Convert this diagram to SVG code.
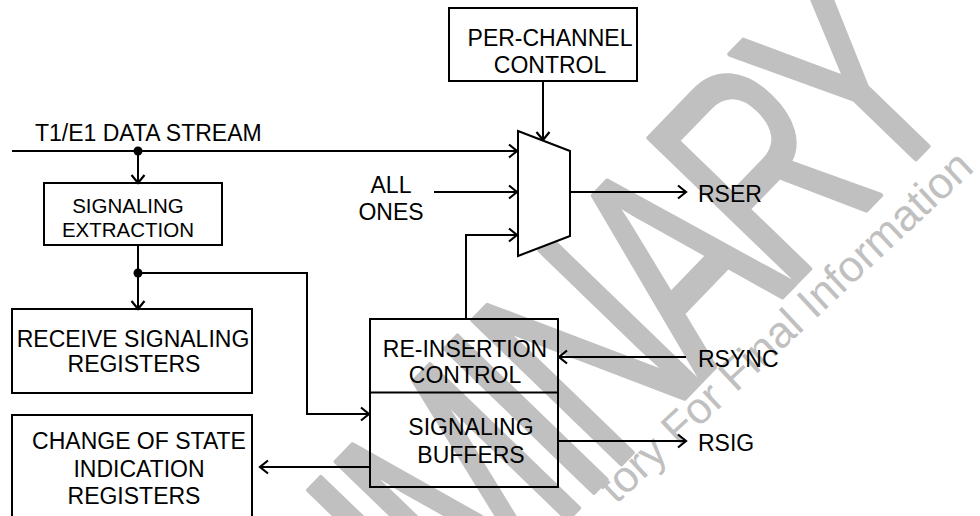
<svg xmlns="http://www.w3.org/2000/svg" width="980" height="516" viewBox="0 0 980 516">
<style>
.t{font-family:"Liberation Sans",Arial,sans-serif;font-size:23px;fill:#000}
.s{font-size:20.5px}
.m{text-anchor:middle}
.wm{font-family:"Liberation Sans",Arial,sans-serif;fill:#c0c0c0}
.b{fill:none;stroke:#000;stroke-width:2}
.c{fill:none;stroke:#000;stroke-width:2;marker-end:url(#ar)}
</style>
<defs>
<marker id="ar" markerUnits="userSpaceOnUse" markerWidth="14" markerHeight="16" refX="11" refY="8" orient="auto" overflow="visible">
<path d="M3,1.5 L11,8 L3,14.5" fill="none" stroke="#000" stroke-width="2.2"/>
</marker>
</defs>
<rect width="980" height="516" fill="#fff"/>
<g id="watermark">
<text class="wm" font-size="300" letter-spacing="-22" stroke="#c0c0c0" stroke-width="5" stroke-linejoin="round" transform="translate(115,988) rotate(-46) scale(0.68,1)">PRELIMINARY</text>
<text class="wm" font-size="44" transform="translate(616,505) rotate(-43)">tory For Final Information</text>
</g>
<g id="connectors">
<path class="c" d="M12,151 H517"/>
<path class="c" d="M138,151 V183"/>
<path class="c" d="M138,245 V309"/>
<path class="c" d="M138,273 H307 V414 H369"/>
<path class="c" d="M543,81 V140"/>
<path class="c" d="M434,192 H517"/>
<path class="c" d="M466,319 V235 H517"/>
<path class="c" d="M570,192 H686"/>
<path class="c" d="M686,357 H559"/>
<path class="c" d="M558,441 H686"/>
<path class="c" d="M370,467 H260"/>
<circle cx="138" cy="151" r="4.5" fill="#000"/>
<circle cx="138" cy="273" r="4.5" fill="#000"/>
</g>
<g id="mux">
<polygon points="518,131 570,151 570,236 518,256" fill="#fff" stroke="#000" stroke-width="2"/>
</g>
<g id="per-channel-control">
<rect class="b" x="449" y="8" width="188" height="73"/>
<text class="t m" x="550" y="46">PER-CHANNEL</text>
<text class="t m" x="550" y="73">CONTROL</text>
</g>
<g id="signaling-extraction">
<rect class="b" x="44" y="183" width="178" height="62"/>
<text class="t s m" x="128" y="213">SIGNALING</text>
<text class="t s m" x="128" y="237">EXTRACTION</text>
</g>
<g id="receive-signaling-registers">
<rect class="b" x="12" y="309" width="240" height="84"/>
<text class="t m" x="133" y="347">RECEIVE SIGNALING</text>
<text class="t m" x="134" y="372">REGISTERS</text>
</g>
<g id="change-of-state">
<rect class="b" x="12" y="415" width="240" height="112"/>
<text class="t m" x="139" y="449">CHANGE OF STATE</text>
<text class="t m" x="139" y="477">INDICATION</text>
<text class="t m" x="134" y="504">REGISTERS</text>
</g>
<g id="reinsertion-buffers">
<rect class="b" x="370" y="319" width="188" height="168"/>
<line class="b" x1="370" y1="392.5" x2="558" y2="392.5"/>
<text class="t m" x="465" y="357">RE-INSERTION</text>
<text class="t m" x="465" y="383">CONTROL</text>
<text class="t m" x="471" y="435">SIGNALING</text>
<text class="t m" x="471" y="463">BUFFERS</text>
</g>
<g id="labels">
<text class="t" x="35" y="141">T1/E1 DATA STREAM</text>
<text class="t m" x="391" y="193">ALL</text>
<text class="t m" x="391" y="220">ONES</text>
<text class="t" x="698" y="202">RSER</text>
<text class="t" x="698" y="367">RSYNC</text>
<text class="t" x="698" y="451">RSIG</text>
</g>
</svg>
